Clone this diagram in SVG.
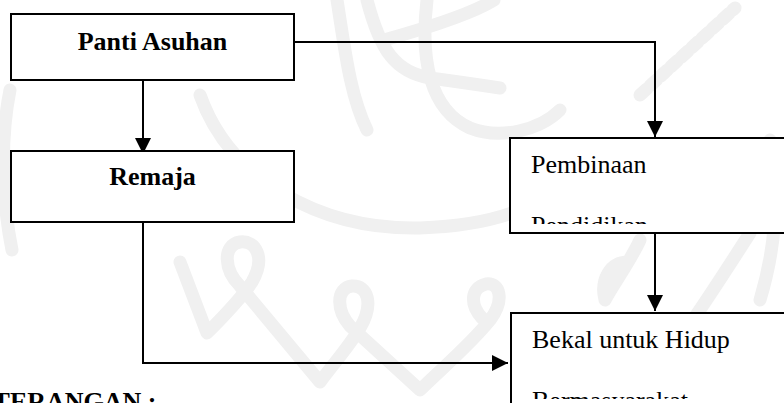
<svg xmlns="http://www.w3.org/2000/svg" width="784" height="403" viewBox="0 0 784 403">
  <style>
    .wm { fill: none; stroke: #f0f0f0; stroke-width: 13; stroke-linecap: round; stroke-linejoin: round; }
    .box { fill: #ffffff; stroke: #000000; stroke-width: 2; }
    .conn { fill: none; stroke: #000000; stroke-width: 2; }
    .bold { font-family: "Liberation Serif", "Times New Roman", serif; font-size: 26px; font-weight: bold; fill: #000000; }
    .reg { font-family: "Liberation Serif", "Times New Roman", serif; font-size: 26px; fill: #000000; }
  </style>
  <defs>
    <marker id="arrow" markerUnits="userSpaceOnUse" markerWidth="16" markerHeight="16" viewBox="0 0 16 16" refX="16" refY="8" orient="auto">
      <path d="M0,0 L16,8 L0,16 Z" fill="#000000"/>
    </marker>
    <clipPath id="clipPemb"><rect x="511" y="139" width="273" height="85"/></clipPath>
    <clipPath id="clipBekal"><rect x="512" y="314" width="272" height="85"/></clipPath>
  </defs>
  <rect width="784" height="403" fill="#ffffff"/>

  <g id="watermark">
    <path class="wm" d="M200 95 C230 180 320 230 420 228 C480 226 515 215 540 200"/>
    <path class="wm" d="M337 0 C345 50 350 95 367 130"/>
    <path class="wm" d="M367 0 C380 50 395 72 430 78 C460 82 480 85 500 88"/>
    <path class="wm" d="M427 0 C420 60 430 110 470 128 C500 140 540 130 560 110"/>
    <path class="wm" d="M384 40 C420 30 470 15 494 0"/>
    <path class="wm" d="M640 95 L735 8" stroke-width="20" stroke-dasharray="9 5"/>
    <path class="wm" d="M180 262 L207 333 C222 318 240 300 252 282 C266 258 256 240 240 242 C222 245 224 270 240 286 L320 382 C335 362 350 345 360 328 C374 304 368 285 352 286 C336 288 336 310 350 326 L420 390 C440 370 470 345 490 320 C505 300 500 282 486 284 C470 288 470 305 482 318"/>
    <path class="wm" d="M750 233 C720 280 700 310 684 333"/>
    <path class="wm" d="M640 240 C630 262 612 286 605 300 C600 280 610 262 628 262"/>
    <path class="wm" d="M10 90 C0 140 2 200 12 250"/>
    <path class="wm" d="M770 140 C780 200 775 250 760 300"/>
  </g>

  <g id="connectors">
    <path class="conn" d="M143 80 L143 154" marker-end="url(#arrow)"/>
    <path class="conn" d="M294 42 L655 42 L655 137" marker-end="url(#arrow)"/>
    <path class="conn" d="M655 233 L655 311" marker-end="url(#arrow)"/>
    <path class="conn" d="M143 222 L143 363 L508 363" marker-end="url(#arrow)"/>
  </g>

  <g id="panti-asuhan">
    <rect class="box" x="11" y="14" width="283" height="66"/>
    <text class="bold" x="152.5" y="50" text-anchor="middle">Panti Asuhan</text>
  </g>

  <g id="remaja">
    <rect class="box" x="11" y="151" width="283" height="71"/>
    <text class="bold" x="152.5" y="185" text-anchor="middle">Remaja</text>
  </g>

  <g id="pembinaan">
    <rect class="box" x="510" y="138" width="290" height="95"/>
    <g clip-path="url(#clipPemb)">
      <text class="reg" x="531" y="173">Pembinaan</text>
      <text class="reg" x="531" y="234">Pendidikan</text>
    </g>
  </g>

  <g id="bekal">
    <rect class="box" x="511" y="313" width="290" height="110"/>
    <g clip-path="url(#clipBekal)">
      <text class="reg" x="532" y="348">Bekal untuk Hidup</text>
      <text class="reg" x="532" y="409">Bermasyarakat</text>
    </g>
  </g>

  <g id="keterangan">
    <text class="bold" x="-45" y="410">KETERANGAN :</text>
  </g>
</svg>
